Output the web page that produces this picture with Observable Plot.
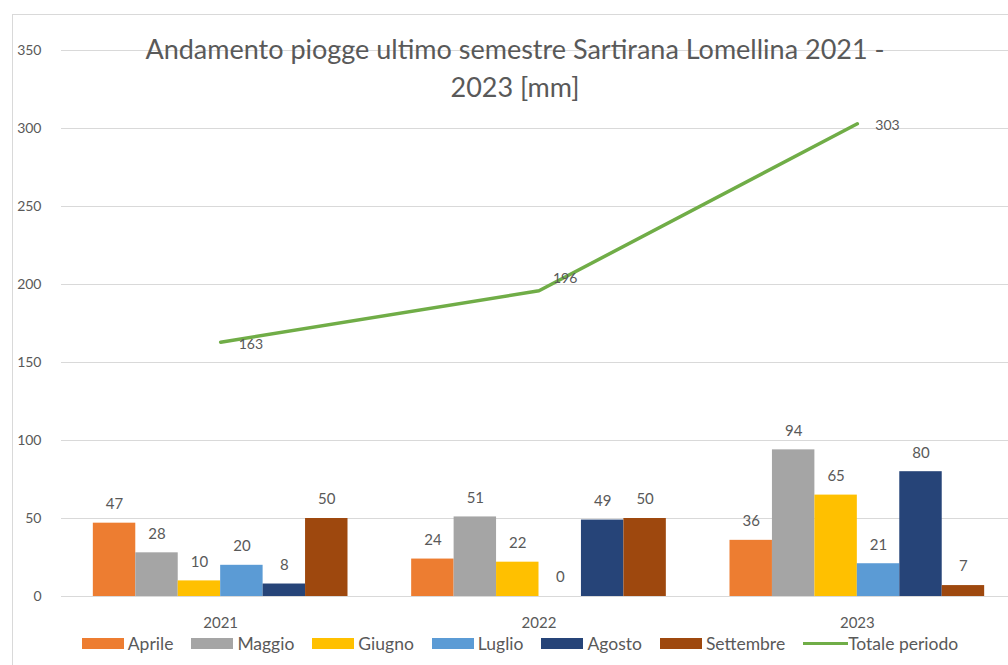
<!DOCTYPE html>
<html>
<head>
<meta charset="utf-8">
<script src="https://cdn.jsdelivr.net/npm/d3@7"></script>
<script src="https://cdn.jsdelivr.net/npm/@observablehq/plot@0.6"></script>
<style>
  html, body { margin: 0; padding: 0; background: #fff; overflow: hidden; }
  #wrap { position: relative; width: 1008px; height: 665px; overflow: hidden; font-family: Lato, "Open Sans", sans-serif; }
  #border { position: absolute; left: 12px; top: 14px; right: -10px; bottom: -10px; border-top: 1px solid #d9d9d9; border-left: 1px solid #d9d9d9; pointer-events: none; }
  #title { position: absolute; left: 0; width: 1030px; top: 30px; text-align: center; font-size: 27px; line-height: 38px; color: #595959; pointer-events: none; }
  #chart { position: absolute; left: 0; top: 0; }
  #legend { position: absolute; left: 0; top: 632px; width: 1040px; height: 22px; display: flex; justify-content: center; align-items: center; font-size: 17.5px; color: #595959; }
  .item { display: flex; align-items: center; margin: 0 9px; }
  .sw { width: 42px; height: 11px; margin-right: 4px; }
  .ln { width: 45px; height: 3px; margin-right: 0px; }
</style>
</head>
<body>
<div id="wrap">
  <div id="chart"></div>
  <div id="border"></div>
  <div id="title">Andamento piogge ultimo semestre Sartirana Lomellina 2021 -<br>2023 [mm]</div>
  <div id="legend"></div>
</div>
<script>
const years = [2021, 2022, 2023];
const months = ["Aprile", "Maggio", "Giugno", "Luglio", "Agosto", "Settembre"];
const aprile = [47, 24, 36];
const maggio = [28, 51, 94];
const giugno = [10, 22, 65];
const luglio = [20, 0, 21];
const agosto = [8, 49, 80];
const settembre = [50, 50, 7];
const totale = [163, 196, 303];
const totaleLabel = "Totale periodo";
const yTicks = [0, 50, 100, 150, 200, 250, 300, 350];
const monthColors = ["#ED7D31", "#A5A5A5", "#FFC000", "#5B9BD5", "#264478", "#9E480E"];
const lineColor = "#70AD47";
const textColor = "#595959";

const series = [aprile, maggio, giugno, luglio, agosto, settembre];
const groupWidth = 0.8;
const bw = groupWidth / months.length;

const rows = years.flatMap((year, i) =>
  series.map((vals, j) => ({
    i, year, month: months[j], value: vals[i],
    x1: i - groupWidth / 2 + j * bw,
    x2: i - groupWidth / 2 + (j + 1) * bw
  }))
);
const totals = years.map((year, i) => ({ i, year, value: totale[i] }));

const chart = Plot.plot({
  width: 1016,
  height: 632,
  marginLeft: 61,
  marginRight: 0,
  marginTop: 50,
  marginBottom: 36,
  x: { domain: [-0.5, years.length - 0.5], axis: null },
  y: { domain: [0, 350], axis: null },
  color: { domain: months, range: monthColors },
  style: { fontFamily: "Lato, 'Open Sans', sans-serif", fontSize: "15px", color: textColor, background: "transparent", overflow: "visible", maxWidth: "none" },
  marks: [
    Plot.gridY(yTicks, { stroke: "#d9d9d9", strokeOpacity: 1, strokeWidth: 1.2 }),
    Plot.axisY(yTicks, { tickSize: 0, tickPadding: 20, fill: textColor, fontSize: 14, label: null }),
    Plot.axisX(years.map((_, i) => i), { tickSize: 0, tickPadding: 21, tickFormat: i => String(years[i]), fill: textColor, fontSize: 15, label: null }),
    Plot.rectY(rows, { x1: "x1", x2: "x2", y: "value", fill: "month" }),
    Plot.text(rows, { x: d => (d.x1 + d.x2) / 2, y: "value", text: d => String(d.value), dy: -19, fill: textColor, fontSize: 15 }),
    Plot.line(totals, { x: "i", y: "value", stroke: lineColor, strokeWidth: 3.5 }),
    Plot.text(totals.filter(d => d.i !== 1), { x: "i", y: "value", text: d => String(d.value), textAnchor: "start", dx: 18, dy: 2, fill: textColor, fontSize: 14 }),
    Plot.text(totals.filter(d => d.i === 1), { x: "i", y: "value", text: d => String(d.value), textAnchor: "start", dx: 14, dy: -12, fill: textColor, fontSize: 14 })
  ]
});
document.getElementById("chart").appendChild(chart);

const legend = document.getElementById("legend");
months.forEach((m, j) => {
  const it = document.createElement("div");
  it.className = "item";
  it.innerHTML = `<span class="sw" style="background:${monthColors[j]}"></span><span>${m}</span>`;
  legend.appendChild(it);
});
const lt = document.createElement("div");
lt.className = "item";
lt.innerHTML = `<span class="ln" style="background:${lineColor}"></span><span>${totaleLabel}</span>`;
legend.appendChild(lt);
</script>
</body>
</html>
